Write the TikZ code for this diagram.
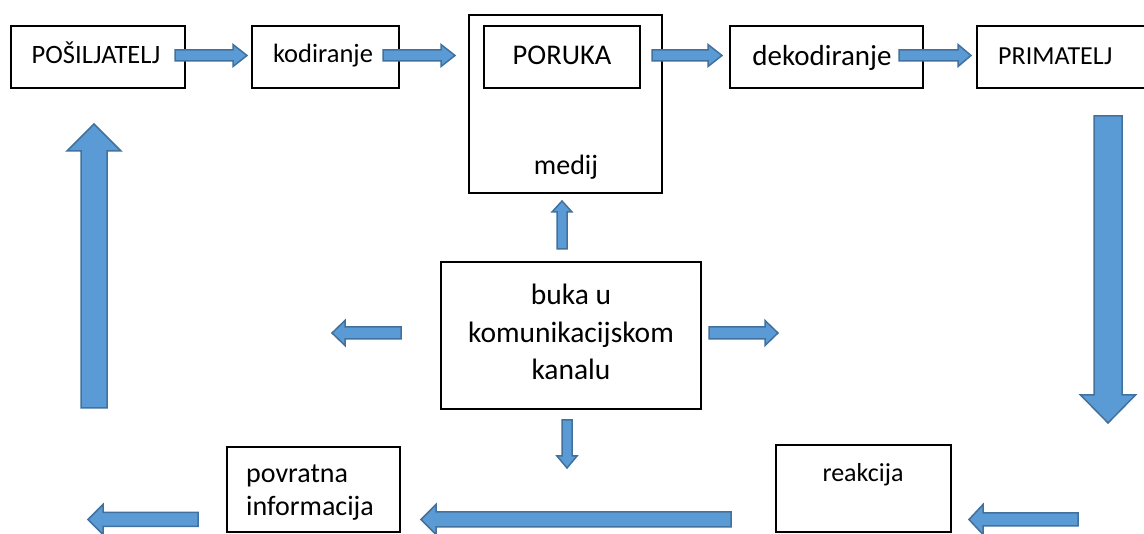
\documentclass[tikz,border=0pt]{standalone}
\usepackage{fontspec}
\setmainfont{Carlito}
\definecolor{afill}{HTML}{5B9BD5}
\definecolor{aline}{HTML}{41719C}
\tikzset{
 box/.style={draw=black, line width=1.1pt, fill=white, inner sep=0pt},
 barrow/.style={fill=afill, draw=aline, line width=1.5pt, line join=miter},
 lbl/.style={inner sep=0pt, anchor=base},
}
\newcommand\harr[6]{\draw[barrow] (#1,#4-#5) -- (#2,#4-#5) -- (#2,#4-#6) -- (#3,#4) -- (#2,#4+#6) -- (#2,#4+#5) -- (#1,#4+#5) -- cycle;}
\newcommand\varr[6]{\draw[barrow] (#4-#5,#1) -- (#4-#5,#2) -- (#4-#6,#2) -- (#4,#3) -- (#4+#6,#2) -- (#4+#5,#2) -- (#4+#5,#1) -- cycle;}
\begin{document}
\begin{tikzpicture}[x=1pt,y=-1pt]
\clip (0,0) rectangle (1144,534);
\fill[white] (0,0) rectangle (1144,534);
% boxes
\node[box, minimum width=174pt, minimum height=62pt] (send) at (98,57) {};
\node[lbl, font=\fontsize{26.5}{32}\selectfont] (sendt) at (96,64) {POŠILJATELJ};
\node[box, minimum width=147pt, minimum height=62pt] (kod) at (325.5,57) {};
\node[lbl, font=\fontsize{26.5}{32}\selectfont] (kodt) at (323,63) {kodiranje};
\node[box, minimum width=193pt, minimum height=178pt] (med) at (565.5,104) {};
\node[box, minimum width=156pt, minimum height=62pt] (por) at (562,57) {};
\node[lbl, font=\fontsize{28.5}{34}\selectfont] (port) at (562,65) {PORUKA};
\node[lbl, font=\fontsize{28}{34}\selectfont] (medt) at (566,175) {medij};
\node[box, minimum width=193pt, minimum height=62pt] (dek) at (826.5,57) {};
\node[lbl, font=\fontsize{29}{35}\selectfont] (dekt) at (822,66) {dekodiranje};
\node[box, minimum width=183pt, minimum height=62pt] (prim) at (1068.5,57) {};
\node[lbl, anchor=base west, font=\fontsize{26}{32}\selectfont] (primt) at (998,65) {PRIMATELJ};
\node[box, minimum width=260pt, minimum height=147pt] (buka) at (571,335.5) {};
\node[lbl, align=center, font=\fontsize{29.5}{37.5}\selectfont] (bukat) at (571,380) {buka u\\komunikacijskom\\kanalu};
\node[box, minimum width=173pt, minimum height=85pt] (povr) at (313.5,489.5) {};
\node[lbl, anchor=base west, align=left, font=\fontsize{28}{34}\selectfont] (povrt) at (246,516) {povratna\\informacija};
\node[box, minimum width=175pt, minimum height=87pt] (reak) at (863.5,488.5) {};
\node[lbl, font=\fontsize{26}{32}\selectfont] (reakt) at (863,482) {reakcija};
% block arrows
\harr{175}{233}{247}{55.5}{5.5}{11}
\harr{383}{441}{455}{55.5}{5.5}{11}
\harr{652}{708}{722}{55.5}{5.5}{11}
\harr{899}{958}{971}{55.5}{5.5}{11}
\varr{408}{151}{124}{94}{13}{27}
\varr{116}{395}{423}{1108}{14}{27.5}
\varr{249}{212}{201}{562}{5}{10}
\varr{420}{456}{468}{567}{5}{10}
\harr{401}{345}{332}{333}{6}{12.5}
\harr{709}{765}{778}{333}{6}{12.5}
\harr{198}{103}{88}{519.5}{7}{15}
\harr{731}{436}{421}{519.5}{7.5}{15}
\harr{1078}{983}{969}{519.5}{6.5}{15}
\end{tikzpicture}
\end{document}
